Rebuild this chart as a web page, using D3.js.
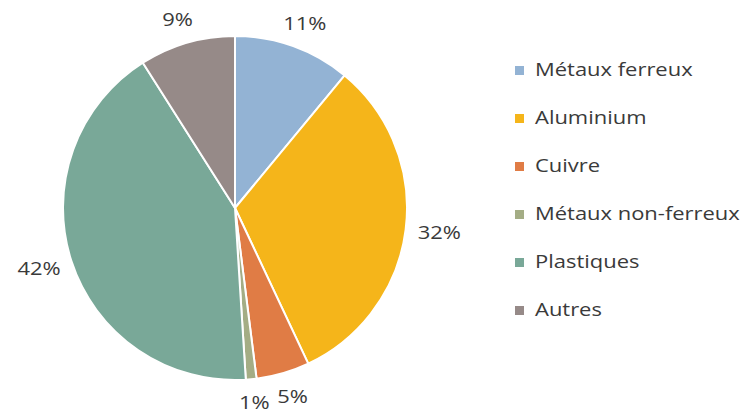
<!DOCTYPE html>
<html>
<head>
<meta charset="utf-8">
<script src="https://cdn.jsdelivr.net/npm/d3@7"></script>
<style>
  body { margin: 0; background: #fff; }
  text { font-family: "Open Sans", "Liberation Sans", sans-serif; fill: #3a3a3a; }
</style>
</head>
<body>
<div id="pie"></div>
<script>
// categories and shares (percent)
var categories = ["Métaux ferreux", "Aluminium", "Cuivre", "Métaux non-ferreux", "Plastiques", "Autres"];
var shares = [11, 32, 5, 1, 42, 9];
var colors = ["#93B3D4", "#F5B51A", "#E07C45", "#A4AD85", "#79A898", "#968A88"];

var svgWidth = 748;
var svgHeight = 418;

var center = { x: 235, y: 208 };
var radius = 172;
var stretch = 1.22; // wide glyphs

var svg = d3.select("#pie")
    .append("svg")
    .attr("width", svgWidth)
    .attr("height", svgHeight);

var data = categories.map(function(c, i) {
  return { name: c, value: shares[i], color: colors[i] };
});

var pie = d3.pie()
    .sort(null)
    .value(d => d.value);

var arc = d3.arc()
    .innerRadius(0)
    .outerRadius(radius);

var chartGroup = svg.append("g")
    .attr("transform", `translate(${center.x}, ${center.y})`);

var arcs = pie(data);

chartGroup.selectAll("path")
    .data(arcs)
    .enter()
    .append("path")
    .attr("d", arc)
    .attr("fill", d => d.data.color)
    .attr("stroke", "#fff")
    .attr("stroke-width", 2)
    .attr("stroke-linejoin", "round");

// percentage labels: anchored just outside the rim, box pushed outward
var gap = 14;
var boxW = 40, boxH = 20;

chartGroup.selectAll("text.pct")
    .data(arcs)
    .enter()
    .append("text")
    .classed("pct", true)
    .attr("transform", function(d) {
      var a = (d.startAngle + d.endAngle) / 2;
      var s = Math.sin(a), c = Math.cos(a);
      var x = s * (radius + gap) + s * boxW / 2;
      var y = -c * (radius + gap) - c * boxH / 2;
      return `translate(${x}, ${y}) scale(${stretch}, 1)`;
    })
    .attr("text-anchor", "middle")
    .attr("dy", "0.35em")
    .style("font-size", "18px")
    .text(d => d.data.value + "%");

// legend
var legend = svg.append("g")
    .attr("transform", "translate(515, 70)");

var rowStep = 48;

var rows = legend.selectAll("g")
    .data(data)
    .enter()
    .append("g")
    .attr("transform", (d, i) => `translate(0, ${i * rowStep})`);

rows.append("rect")
    .attr("x", 0)
    .attr("y", -4)
    .attr("width", 9)
    .attr("height", 9)
    .attr("fill", d => d.color);

rows.append("text")
    .attr("transform", `translate(20, 0) scale(${stretch}, 1)`)
    .attr("dy", "0.35em")
    .style("font-size", "18px")
    .text(d => d.name);
</script>
</body>
</html>
